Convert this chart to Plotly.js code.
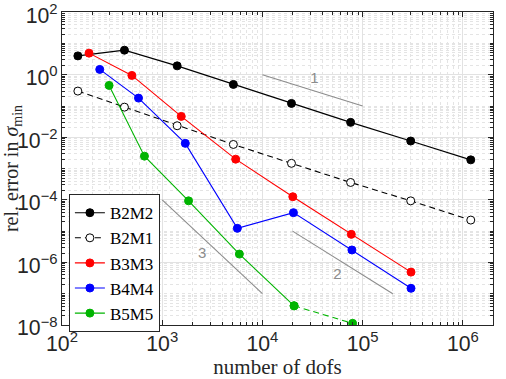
<!DOCTYPE html>
<html>
<head>
<meta charset="utf-8">
<script src="https://cdn.plot.ly/plotly-3.0.1.min.js"></script>
<style>
  html, body { margin: 0; padding: 0; background: #fff; }
  #plot { width: 506px; height: 379px; }
</style>
</head>
<body>
<div id="plot"></div>
<script>
// values
const dofsB2 = [144, 420, 1410, 5130, 19500, 75900, 302000, 1200000];
const errB2M2 = [4.0, 6.1, 1.92, 0.49, 0.121, 0.030, 0.0076, 0.0019];
const errB2M1 = [0.30, 0.092, 0.0234, 0.0059, 0.00147, 3.6e-4, 9.3e-5, 2.26e-5];
const dofsB3 = [186, 498, 1549, 5410, 20100, 77100, 304000];
const errB3M3 = [4.9, 0.95, 0.0466, 0.0020, 1.26e-4, 7.9e-6, 4.9e-7];
const dofsB4 = [238, 580, 1700, 5620, 20400, 78200, 304000];
const errB4M4 = [1.48, 0.179, 0.0064, 1.23e-5, 3.9e-5, 2.5e-6, 1.49e-7];
const dofsB5 = [295, 665, 1832, 5890, 20700];
const errB5M5 = [0.455, 0.0025, 9.3e-5, 1.85e-6, 4.1e-8];
const dofsB5tail = [20700, 79400];
const errB5tail = [4.1e-8, 1.13e-8];

// slope triangles (rate 1, 2, 3)
const slope1x = [1e4, 1e5], slope1y = [1, 0.1];
const slope2x = [2e4, 2e5], slope2y = [1e-5, 1e-7];
const slope3x = [1e3, 1e4], slope3y = [1e-4, 1e-7];
const slopeLabels = ['1', '2', '3'];
const slopeLabelX = [33000, 56000, 2500];
const slopeLabelY = [0.74, 4e-7, 1.8e-6];

const gray = '#8c8c8c';

function series(x, y, name, color, fill, dash) {
    return {
        x: x, y: y, name: name, type: 'scatter', mode: 'lines+markers',
        line: {color: color, width: 1.1, dash: dash || 'solid'},
        marker: {symbol: 'circle', size: 8, color: fill, line: {color: color, width: 1}}
    };
}
function guide(x, y) {
    return {x: x, y: y, type: 'scatter', mode: 'lines', showlegend: false,
        hoverinfo: 'skip', line: {color: gray, width: 1.1}};
}

const traces = [
    guide(slope1x, slope1y),
    guide(slope2x, slope2y),
    guide(slope3x, slope3y),
    {x: slopeLabelX, y: slopeLabelY, text: slopeLabels, type: 'scatter', mode: 'text',
     showlegend: false, textfont: {family: 'Liberation Sans, Arial', size: 15, color: gray}},
    series(dofsB2, errB2M2, 'B2M2', '#000000', '#000000'),
    series(dofsB2, errB2M1, 'B2M1', '#000000', '#ffffff', '6px,4px'),
    series(dofsB3, errB3M3, 'B3M3', '#ff0000', '#ff0000'),
    series(dofsB4, errB4M4, 'B4M4', '#0000ff', '#0000ff'),
    series(dofsB5, errB5M5, 'B5M5', '#00b400', '#00b400'),
    Object.assign(series(dofsB5tail, errB5tail, 'B5M5', '#00b400', '#00b400', '6px,4px'), {showlegend: false})
];

const axisCommon = {
    type: 'log',
    showline: true, linecolor: '#262626', linewidth: 1, mirror: 'allticks',
    ticks: 'inside', ticklen: 5, tickcolor: '#262626',
    showgrid: true, gridcolor: '#e2e2e2', gridwidth: 1,
    zeroline: false,
    exponentformat: 'power',
    ticklabeloverflow: 'allow',
    tickfont: {family: 'Liberation Sans, Arial', size: 17, color: '#262626'},
    minor: {dtick: 'D1', ticks: 'inside', ticklen: 3, tickcolor: '#262626', showgrid: true,
            gridcolor: '#e4e4e4', griddash: 'dot', gridwidth: 1}
};

const layout = {
    width: 506, height: 379,
    margin: {l: 62, r: 13, t: 12, b: 54},
    paper_bgcolor: '#ffffff', plot_bgcolor: '#ffffff',
    showlegend: true,
    xaxis: Object.assign({}, axisCommon, {
        range: [2, Math.log10(2e6)],
        dtick: 1,
        title: {text: 'number of dofs', standoff: 6,
                font: {family: 'Liberation Serif, DejaVu Serif', size: 21, color: '#262626'}}
    }),
    yaxis: Object.assign({}, axisCommon, {
        range: [-8, 2.005],
        dtick: 2,
        ticklabelshift: 3,
        labelalias: {'1': '10<sup>0</sup>', '100': '10<sup>2</sup>'},
        title: {text: 'rel. error in <i>σ</i><sub>min</sub>', standoff: 6,
                font: {family: 'Liberation Serif, DejaVu Serif', size: 20, color: '#262626'}}
    }),
    legend: {
        x: 0.016, y: 0.418, xanchor: 'left', yanchor: 'top',
        bgcolor: '#ffffff', bordercolor: '#262626', borderwidth: 1,
        font: {family: 'Liberation Serif, DejaVu Serif', size: 17, color: '#000000'},
        itemwidth: 30, tracegroupgap: 0
    }
};

Plotly.newPlot('plot', traces, layout, {displayModeBar: false, staticPlot: true});
</script>
</body>
</html>
